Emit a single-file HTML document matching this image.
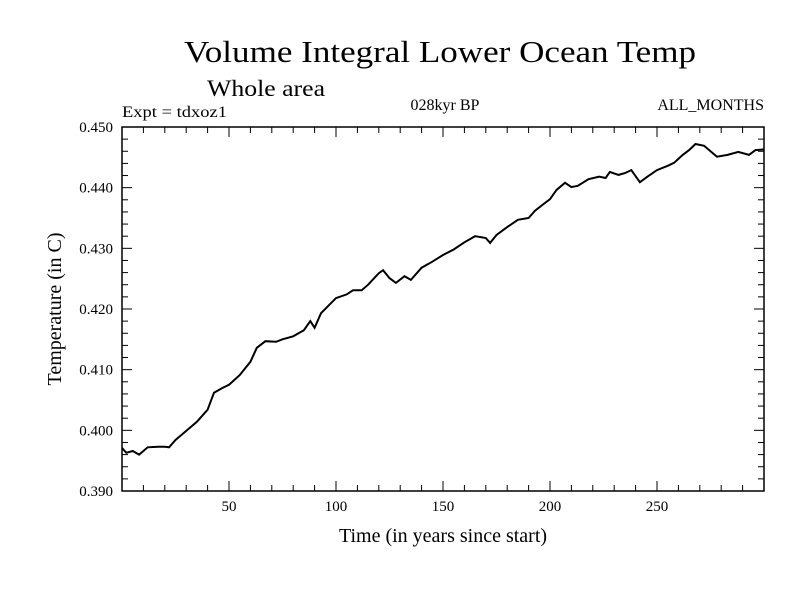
<!DOCTYPE html>
<html><head><meta charset="utf-8"><style>
body{margin:0;background:#fff;width:800px;height:600px;overflow:hidden}
svg{font-family:"Liberation Serif",serif;display:block}
</style></head><body>
<svg id="chart" width="800" height="600" xmlns="http://www.w3.org/2000/svg">
<text x="440" y="62" font-size="31" text-anchor="middle" textLength="512" lengthAdjust="spacingAndGlyphs">Volume Integral Lower Ocean Temp</text>
<text x="207" y="96" font-size="23" textLength="118" lengthAdjust="spacingAndGlyphs">Whole area</text>
<text x="122" y="117" font-size="16" textLength="105" lengthAdjust="spacingAndGlyphs">Expt = tdxoz1</text>
<text x="445" y="110" font-size="16" text-anchor="middle">028kyr BP</text>
<text x="764" y="110" font-size="16" text-anchor="end">ALL_MONTHS</text>
<rect x="122" y="127" width="642" height="364" fill="none" stroke="#000" stroke-width="1.5"/>
<g id="ticks"></g>
<path id="series" fill="none" stroke="#000" stroke-width="2"/>
<text x="443" y="542" font-size="20" text-anchor="middle">Time (in years since start)</text>
<text transform="translate(61,309) rotate(-90)" font-size="20" text-anchor="middle">Temperature (in C)</text>
</svg>
<script>
const years=[0,2,5,8,12,17,20,22,25,30,35,40,43,47,50,55,60,63,67,72,75,80,85,88,90,93,100,105,108,112,115,120,122,125,128,132,135,140,145,150,155,160,165,170,172,175,180,185,190,193,197,200,203,207,210,213,218,223,226,228,232,235,238,242,245,250,255,258,262,265,268,272,275,278,283,288,293,296,300];
const temps=[0.3971,0.3963,0.3966,0.3960,0.3972,0.3973,0.3973,0.3972,0.3984,0.3999,0.4014,0.4034,0.4062,0.4070,0.4075,0.4091,0.4113,0.4136,0.4147,0.4146,0.4150,0.4155,0.4165,0.4180,0.4169,0.4193,0.4218,0.4224,0.4231,0.4231,0.4240,0.4259,0.4264,0.4251,0.4243,0.4254,0.4248,0.4268,0.4278,0.4289,0.4298,0.4310,0.4320,0.4317,0.4309,0.4322,0.4335,0.4347,0.4350,0.4362,0.4373,0.4381,0.4396,0.4408,0.4401,0.4403,0.4414,0.4418,0.4416,0.4426,0.4421,0.4424,0.4429,0.4409,0.4417,0.4429,0.4436,0.4441,0.4454,0.4462,0.4472,0.4469,0.4460,0.4451,0.4454,0.4459,0.4454,0.4462,0.4463];
const xTicks=[50,100,150,200,250];
const yTicks=[0.390,0.400,0.410,0.420,0.430,0.440,0.450];
const X0=122,X1=764,Y0=491,Y1=127;
const xs=v=>X0+(v-0)/(300-0)*(X1-X0);
const ys=v=>Y0-(v-0.390)/(0.450-0.390)*(Y0-Y1);
const NS='http://www.w3.org/2000/svg';
const g=document.getElementById('ticks');
function ln(x1,y1,x2,y2,name){const l=document.createElementNS(NS,'line');
l.setAttribute('x1',x1);l.setAttribute('y1',y1);l.setAttribute('x2',x2);l.setAttribute('y2',y2);
l.setAttribute('stroke','#000');l.setAttribute('stroke-width','1');


g.appendChild(l);}
function tx(x,y,s,anchor,name){const t=document.createElementNS(NS,'text');
t.setAttribute('x',x);t.setAttribute('y',y);t.setAttribute('font-size','15');t.setAttribute('text-anchor',anchor);t.textContent=s;


g.appendChild(t);}
for(let v=10;v<300;v+=10){const x=xs(v);const major=v%50===0;const L=major?10:6;
ln(x,Y0,x,Y0-L,'x-tick');ln(x,Y1,x,Y1+L,'x-tick-top');}
for(let i=1;i<30;i++){const v=0.390+i*0.002;const y=ys(v);const major=i%5===0;const L=major?10:6;
ln(X0,y,X0+L,y,'y-tick');ln(X1,y,X1-L,y,'y-tick-right');}
xTicks.forEach(v=>tx(xs(v),511,String(v),'middle','x-tick-label'));
yTicks.forEach(v=>tx(113,ys(v)+5,v.toFixed(3),'end','y-tick-label'));
document.getElementById('series').setAttribute('d',years.map((y,i)=>(i?'L':'M')+xs(y).toFixed(1)+','+ys(temps[i]).toFixed(1)).join(''));
</script>
</body></html>
